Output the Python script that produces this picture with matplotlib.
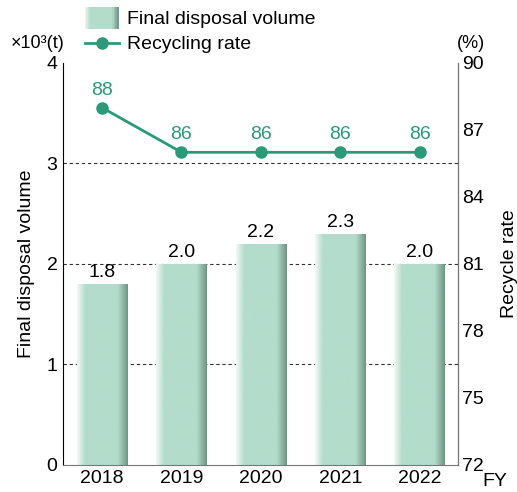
import numpy as np
import matplotlib.pyplot as plt
from matplotlib.patches import Rectangle
from matplotlib.lines import Line2D
from matplotlib.legend_handler import HandlerBase
from matplotlib.colors import LinearSegmentedColormap

plt.rcParams['font.family'] = ['Liberation Sans', 'DejaVu Sans']

# Data
years = ['2018', '2019', '2020', '2021', '2022']
volume = [1.8, 2.0, 2.2, 2.3, 2.0]
recycle = [88, 86, 86, 86, 86]

green = '#2a9a78'
bar_cmap = LinearSegmentedColormap.from_list(
    'bar', [(0, '#f4faf7'), (0.16, '#b3dccb'), (0.8, '#b3dccb'), (1, '#6f9383')])

fig = plt.figure(figsize=(5.17, 4.92), dpi=100)
ax = fig.add_axes([0.122, 0.055, 0.764, 0.817])
ax2 = ax.twinx()

x = np.arange(len(years))
bw = 0.64
bars = ax.bar(x, volume, width=bw, color='none', zorder=2)
grad = np.linspace(0, 1, 256).reshape(1, -1)
for b in bars:
    im = ax.imshow(grad, cmap=bar_cmap, aspect='auto', zorder=2,
                   extent=[b.get_x(), b.get_x() + b.get_width(), 0, b.get_height()])
    im.set_clip_path(b)
for xi, v in zip(x, volume):
    ax.text(xi, v + 0.03, f'{v:.1f}', ha='center', va='bottom', fontsize=14)

for yv in [1, 2, 3]:
    ax.axhline(yv, color='#333333', lw=0.8, ls=(0, (3, 2.5)), zorder=1)

ax.set_xlim(-0.49, 4.48)
ax.set_ylim(0, 4)
ax.set_yticks([0, 1, 2, 3, 4])
ax.set_xticks(x)
ax.set_xticklabels(years)
ax.tick_params(length=0, labelsize=14, pad=4)
ax.set_ylabel('Final disposal volume', fontsize=14, labelpad=8)
ax.spines['top'].set_visible(False)
ax.spines['left'].set_color('black')
ax.spines['bottom'].set_color('#777777')

ax2.plot(x, recycle, color=green, lw=2, marker='o', ms=8, zorder=3)
for xi, r in zip(x, recycle):
    ax2.text(xi, r + 0.4, str(r), ha='center', va='bottom', fontsize=14, color=green)
ax2.set_ylim(72, 90)
ax2.set_yticks([72, 75, 78, 81, 84, 87, 90])
ax2.tick_params(length=0, labelsize=14, pad=3)
ax2.set_ylabel('Recycle rate', fontsize=14, labelpad=12)
ax2.spines['top'].set_visible(False)
ax2.spines['left'].set_visible(False)
ax2.spines['bottom'].set_visible(False)
ax2.spines['right'].set_color('#777777')

fig.text(0.02, 0.912, '×10³(t)', fontsize=13, va='center')
fig.text(0.884, 0.912, '(%)', fontsize=13, va='center')
fig.text(0.933, 0.022, 'FY', fontsize=14, va='center')


class GradHandler(HandlerBase):
    def create_artists(self, legend, orig, xd, yd, w, h, fontsize, trans):
        arts = []
        n = 20
        for i in range(n):
            c = bar_cmap((i + 0.5) / n)
            arts.append(Rectangle((xd + w * i / n, yd - 3), w / n + 0.3, h + 6,
                                  fc=c, ec='none', transform=trans))
        return arts


bar_handle = Rectangle((0, 0), 1, 1)
line_handle = Line2D([], [], color=green, lw=2, marker='o', ms=8)
fig.legend([bar_handle, line_handle], ['Final disposal volume', 'Recycling rate'],
           loc='upper left', bbox_to_anchor=(0.164, 0.978), frameon=False,
           borderpad=0, borderaxespad=0,
           fontsize=14, handlelength=1.75, handletextpad=0.4, labelspacing=0.38,
           handler_map={Rectangle: GradHandler()})

fig.savefig('out.png', dpi=100)
